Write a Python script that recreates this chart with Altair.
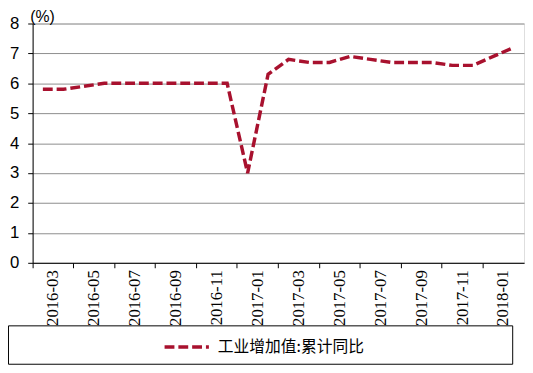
import altair as alt
import pandas as pd

months = ["2016-03", "2016-04", "2016-05", "2016-06", "2016-07", "2016-08",
          "2016-09", "2016-10", "2016-11", "2016-12", "2017-01", "2017-02",
          "2017-03", "2017-04", "2017-05", "2017-06", "2017-07", "2017-08",
          "2017-09", "2017-10", "2017-11", "2017-12", "2018-01", "2018-02"]
values = [5.8, 5.8, 5.9, 6.0, 6.0, 6.0, 6.0, 6.0, 6.0, 6.0, 3.0, 6.3,
          6.8, 6.7, 6.7, 6.9, 6.8, 6.7, 6.7, 6.7, 6.6, 6.6, 6.9, 7.2]
series_name = "工业增加值:累计同比"
tick_months = months[::2]
y_ticks = [0, 1, 2, 3, 4, 5, 6, 7, 8]

LINE_COLOR = "#a8112e"
df = pd.DataFrame({"month": months, "value": values, "series": [series_name] * len(months)})

line = alt.Chart(df).mark_line(strokeWidth=3.5, strokeDash=[10, 4]).encode(
    x=alt.X("month:N", sort=months, title=None,
            scale=alt.Scale(type="band", paddingInner=0, paddingOuter=0),
            axis=alt.Axis(values=tick_months, labelAngle=-90, bandPosition=0,
                          labelOffset=10.4, labelFont="Liberation Sans Narrow",
                          labelFontSize=17, labelColor="black", labelPadding=2,
                          tickSize=5, tickColor="black", domainColor="black",
                          grid=False)),
    y=alt.Y("value:Q", scale=alt.Scale(domain=[0, 8], nice=False, zero=True),
            axis=alt.Axis(values=y_ticks, title="(%)", titleAngle=0, titleX=-3,
                          titleY=-2, titleAlign="left", titleBaseline="alphabetic",
                          titleFont="Liberation Sans", titleFontSize=16,
                          titleFontWeight="normal", titleColor="black",
                          labelFont="Liberation Sans", labelFontSize=17,
                          labelColor="black", labelPadding=9, tickSize=5,
                          tickColor="black", domainColor="black",
                          grid=True, gridColor="#8c8c8c", gridWidth=1)),
    color=alt.Color("series:N", scale=alt.Scale(range=[LINE_COLOR]),
                    legend=alt.Legend(title=None, orient="none", legendX=132,
                                      legendY=304, direction="horizontal",
                                      symbolType="stroke", symbolSize=2025,
                                      symbolStrokeWidth=3.5, symbolDash=[10, 4],
                                      labelFont="Noto Sans CJK SC",
                                      labelFontSize=16, labelColor="black",
                                      labelOffset=7, padding=0)),
)

box = alt.Chart(pd.DataFrame({"k": [0]})).mark_rect(
    fillOpacity=0, stroke="black", strokeWidth=1
).encode(x=alt.value(-24.5), x2=alt.value(487.5), y=alt.value(307), y2=alt.value(346))

chart = alt.layer(box, line).properties(
    width=499, height=243,
    padding={"left": 25, "top": 13, "right": 1, "bottom": 101},
    autosize=alt.AutoSizeParams(type="none"),
).configure_view(stroke=None).configure(background="white")

chart.save("out.html", embed_options={"renderer": "svg", "actions": False})
